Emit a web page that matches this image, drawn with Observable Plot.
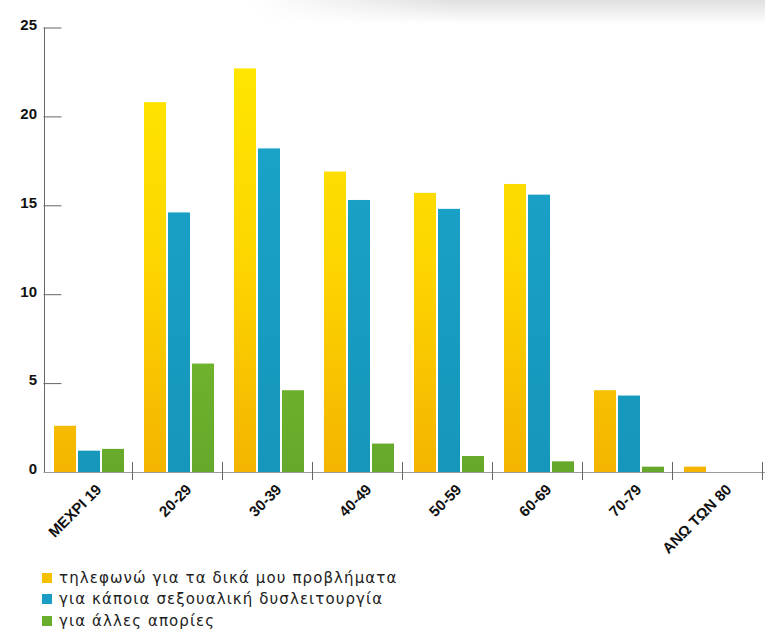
<!DOCTYPE html>
<html><head><meta charset="utf-8">
<script src="https://cdn.jsdelivr.net/npm/d3@7"></script>
<script src="https://cdn.jsdelivr.net/npm/@observablehq/plot@0.6"></script>
<style>
body{margin:0;background:#fff;width:765px;height:637px;overflow:hidden;position:relative;font-family:"DejaVu Sans",sans-serif}
#topshade{position:absolute;left:250px;top:0;width:515px;height:24px;background:linear-gradient(to bottom, rgba(190,192,190,0.5), rgba(255,255,255,0));-webkit-mask-image:linear-gradient(to right, transparent, black 40%);mask-image:linear-gradient(to right, transparent, black 40%);}
#chart{position:absolute;left:0;top:0}
#legend{position:absolute;left:42px;top:567px;font-size:15px;letter-spacing:1.1px;color:#222;}
.row{display:flex;align-items:center;height:21.5px;white-space:nowrap}
.sw{width:10px;height:10px;margin-right:7px;flex:none}
</style></head><body>
<div id="topshade"></div>
<div id="chart"></div>
<div id="legend"></div>
<script>
const categories = ["ΜΕΧΡΙ 19","20-29","30-39","40-49","50-59","60-69","70-79","ΑΝΩ ΤΩΝ 80"];
const seriesNames = ["τηλεφωνώ για τα δικά μου προβλήματα","για κάποια σεξουαλική δυσλειτουργία","για άλλες απορίες"];
const ownProblems = [2.6,20.8,22.7,16.9,15.7,16.2,4.6,0.3];
const sexualDysfunction = [1.2,14.6,18.2,15.3,14.8,15.6,4.3,0];
const otherQuestions = [1.3,6.1,4.6,1.6,0.9,0.6,0.3,0];
const yTicks = [0,5,10,15,20,25];
const swatchColors = ["#f5c000","#1a9dc4","#6aae2d"];

const W = 765, H = 560, ML = 43.5, MR = 1.5;
const rows = vals => categories.map((c,i)=>({c, v: vals[i]}));
const mk = (vals, fill, il, ir) => Plot.barY(rows(vals), {x:"c", y:"v", fill, insetLeft: il, insetRight: ir});

const plot = Plot.plot({
  width: W, height: H,
  marginLeft: ML, marginRight: MR, marginTop: 27.5, marginBottom: 88,
  x: {domain: categories, padding: 0, axis: null},
  y: {domain: [0,25], axis: null},
  style: {background: "transparent", overflow: "visible"},
  marks: [
    mk(ownProblems, "url(#gY)", 10, 58),
    mk(sexualDysfunction, "url(#gB)", 34, 34),
    mk(otherQuestions, "url(#gG)", 58, 10),
    Plot.ruleY([0], {stroke: "#9a9a9a", strokeWidth: 1.2, insetRight: -2}),
    Plot.ruleX(categories, {x: d=>d, y1: 0, y2: 0, dx: 43, insetTop: -10, insetBottom: -8, stroke: "#666"}),
    Plot.ruleX([categories[0]], {x: d=>d, y1: 0, y2: 25, dx: -45, stroke: "#666"}),
    Plot.ruleY(yTicks.filter(d=>d>0), {y: d=>d, insetRight: W-ML-MR-18, stroke: "#666"}),
    Plot.text(yTicks, {y: d=>d, text: d=>String(d), frameAnchor: "left", dx: -7, dy: -3, textAnchor: "end",
      fontWeight: "bold", fontSize: 15, fontFamily: "Liberation Sans", fill: "#111"}),
    Plot.text(categories, {x: d=>d, y: 0, text: d=>d, rotate: -45, textAnchor: "end", lineAnchor: "bottom",
      dx: 13, dy: 18, fontWeight: "bold", fontSize: 15, fontFamily: "Liberation Sans", fill: "#111"})
  ]
});
plot.insertAdjacentHTML("afterbegin",
 `<defs>
   <linearGradient id="gY" gradientUnits="userSpaceOnUse" x1="0" y1="60" x2="0" y2="472">
     <stop offset="0" stop-color="#ffe600"/><stop offset="0.5" stop-color="#fdd500"/><stop offset="1" stop-color="#f4b400"/>
   </linearGradient>
   <linearGradient id="gB" gradientUnits="userSpaceOnUse" x1="0" y1="140" x2="0" y2="472">
     <stop offset="0" stop-color="#1aa2c8"/><stop offset="1" stop-color="#1696bb"/>
   </linearGradient>
   <linearGradient id="gG" gradientUnits="userSpaceOnUse" x1="0" y1="360" x2="0" y2="472">
     <stop offset="0" stop-color="#6fb22e"/><stop offset="1" stop-color="#66a82a"/>
   </linearGradient>
 </defs>`);
document.getElementById("chart").appendChild(plot);

const legend = document.getElementById("legend");
seriesNames.forEach((name, i) => {
  const r = document.createElement("div"); r.className = "row";
  const s = document.createElement("span"); s.className = "sw"; s.style.background = swatchColors[i];
  const t = document.createElement("span"); t.textContent = name;
  r.appendChild(s); r.appendChild(t); legend.appendChild(r);
});
</script>
</body></html>
